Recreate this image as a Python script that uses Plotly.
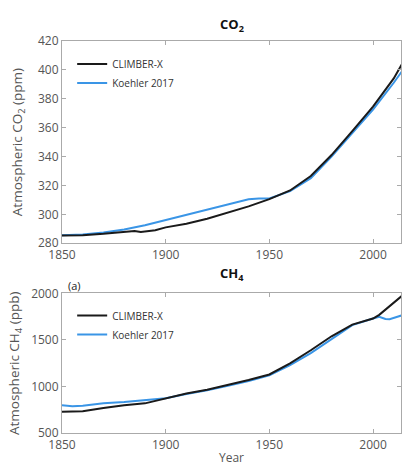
import plotly.graph_objects as go

# CO2 (ppm)
co2_years_climber = [1850, 1860, 1870, 1880, 1885, 1888, 1895, 1900, 1910, 1920, 1930, 1940, 1950, 1960, 1970, 1980, 1990, 2000, 2010, 2014]
co2_climber = [285.3, 285.5, 286.5, 288.0, 288.5, 287.8, 289.0, 291.0, 293.5, 297.0, 301.0, 305.5, 310.5, 316.5, 326.5, 341.0, 357.5, 374.5, 394.0, 404.0]
co2_years_koehler = [1850, 1860, 1870, 1880, 1890, 1900, 1910, 1920, 1930, 1940, 1945, 1950, 1960, 1970, 1980, 1990, 2000, 2010, 2014]
co2_koehler = [285.5, 286.0, 287.5, 289.5, 292.5, 296.0, 299.5, 303.0, 306.5, 310.5, 311.0, 311.0, 316.0, 325.0, 340.0, 356.0, 372.5, 391.0, 399.0]

# CH4 (ppb)
ch4_years_climber = [1850, 1860, 1870, 1880, 1890, 1900, 1910, 1920, 1930, 1940, 1950, 1960, 1970, 1980, 1990, 2000, 2003, 2008, 2014]
ch4_climber = [730, 735, 770, 800, 820, 870, 925, 965, 1015, 1070, 1130, 1250, 1390, 1540, 1665, 1730, 1770, 1865, 1975]
ch4_years_koehler = [1850, 1855, 1860, 1870, 1880, 1890, 1900, 1910, 1920, 1930, 1940, 1950, 1960, 1970, 1980, 1990, 2000, 2003, 2006, 2008, 2014]
ch4_koehler = [800, 790, 795, 820, 835, 855, 875, 920, 960, 1010, 1060, 1120, 1230, 1360, 1510, 1660, 1730, 1750, 1725, 1722, 1765]

x_ticks = [1850, 1900, 1950, 2000]
co2_ticks = [280, 300, 320, 340, 360, 380, 400, 420]
ch4_ticks = [500, 1000, 1500, 2000]

BLACK = "#1a1a1a"
BLUE = "#3a95e6"
FONT = "Open Sans"
GRAY = "#555555"

fig = go.Figure()
fig.add_trace(go.Scatter(x=co2_years_koehler, y=co2_koehler, mode="lines", name="Koehler 2017",
                         line=dict(color=BLUE, width=2), xaxis="x", yaxis="y", legend="legend", legendrank=2))
fig.add_trace(go.Scatter(x=co2_years_climber, y=co2_climber, mode="lines", name="CLIMBER-X",
                         line=dict(color=BLACK, width=2), xaxis="x", yaxis="y", legend="legend", legendrank=1))
fig.add_trace(go.Scatter(x=ch4_years_koehler, y=ch4_koehler, mode="lines", name="Koehler 2017",
                         line=dict(color=BLUE, width=2), xaxis="x2", yaxis="y2", legend="legend2", legendrank=2))
fig.add_trace(go.Scatter(x=ch4_years_climber, y=ch4_climber, mode="lines", name="CLIMBER-X",
                         line=dict(color=BLACK, width=2), xaxis="x2", yaxis="y2", legend="legend2", legendrank=1))

H = 473.0
axis_common = dict(showgrid=False, zeroline=False, showline=True, linecolor="#aaaaaa", linewidth=1,
                   mirror="ticks", ticks="inside", ticklen=4, tickcolor="#aaaaaa",
                   tickfont=dict(family=FONT, size=12, color=GRAY))

fig.update_layout(
    width=402, height=473,
    margin=dict(l=62, r=0, t=0, b=0),
    plot_bgcolor="white", paper_bgcolor="white",
    showlegend=True,
    xaxis=dict(domain=[0, 1], range=[1850, 2013.5], tickvals=x_ticks, anchor="y", **axis_common),
    yaxis=dict(domain=[1 - 243 / H, 1 - 33 / H], range=[280, 420], tickvals=co2_ticks, anchor="x",
               title=dict(text="Atmospheric CO<sub>2</sub> (ppm)", font=dict(family=FONT, size=13.5, color=GRAY), standoff=12),
               **axis_common),
    xaxis2=dict(domain=[0, 1], range=[1850, 2013.5], tickvals=x_ticks, anchor="y2",
                title=dict(text="Year", font=dict(family=FONT, size=12, color=GRAY), standoff=2),
                **axis_common),
    yaxis2=dict(domain=[1 - 440 / H, 1 - 295 / H], range=[500, 2000], tickvals=ch4_ticks, anchor="x2",
                title=dict(text="Atmospheric CH<sub>4</sub> (ppb)", font=dict(family=FONT, size=13.5, color=GRAY), standoff=8),
                **axis_common),
    legend=dict(x=0.03, y=1 - 42 / H, xanchor="left", yanchor="top", bgcolor="rgba(0,0,0,0)",
                font=dict(family=FONT, size=10, color="#333333"), tracegroupgap=0, itemwidth=30),
    legend2=dict(x=0.03, y=1 - 303 / H, xanchor="left", yanchor="top", bgcolor="rgba(0,0,0,0)",
                 font=dict(family=FONT, size=10, color="#333333"), tracegroupgap=0, itemwidth=30),
    annotations=[
        dict(text="<b>CO<sub>2</sub></b>", x=0.5, y=1 - 17 / H, xref="paper", yref="paper",
             showarrow=False, font=dict(family=FONT, size=13, color="#111111"), xanchor="center", yanchor="middle"),
        dict(text="<b>CH<sub>4</sub></b>", x=0.5, y=1 - 275 / H, xref="paper", yref="paper",
             showarrow=False, font=dict(family=FONT, size=13, color="#111111"), xanchor="center", yanchor="middle"),
        dict(text="(a)", x=(66 - 62) / 340.0, y=1 - 287 / H, xref="paper", yref="paper",
             showarrow=False, font=dict(family=FONT, size=11, color="#222222"), xanchor="left", yanchor="middle"),
    ],
)

fig.write_html("out.html", config={"displayModeBar": False},
               post_script="document.body.style.margin='0';document.body.style.overflow='hidden';")
